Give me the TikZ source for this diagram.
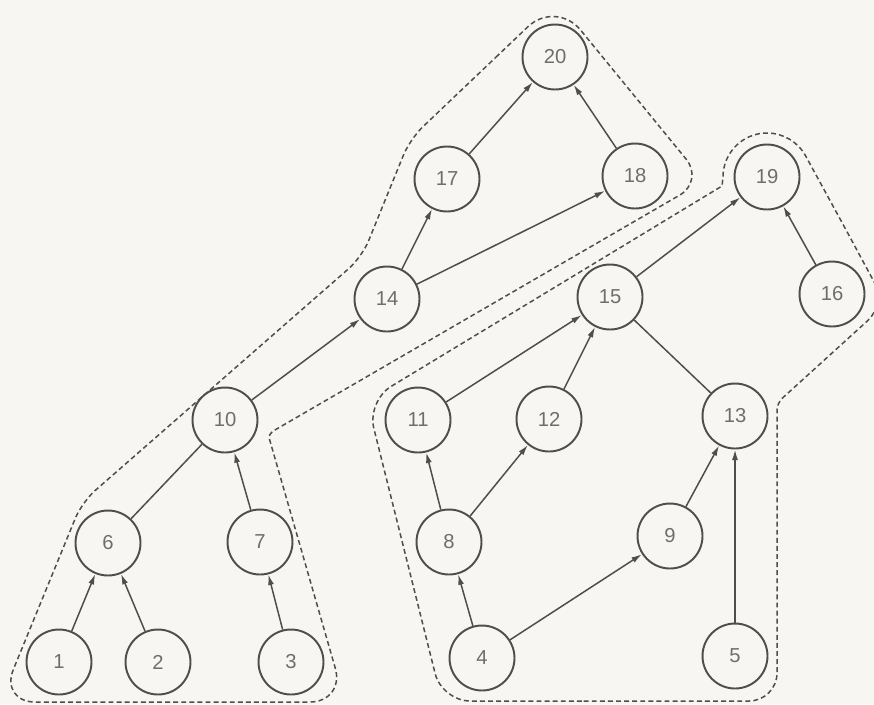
\documentclass[tikz,border=0pt]{standalone}
\usepackage{fontspec}
\setmainfont{Liberation Sans}
\usetikzlibrary{arrows.meta}
\definecolor{bg}{HTML}{F7F6F2}
\definecolor{ink}{HTML}{4E4E4E}
\definecolor{txt}{HTML}{6E6E6E}
\begin{document}
\begin{tikzpicture}[x=0.02cm,y=-0.02cm,
  vert/.style={circle,draw=ink,line width=1.1pt,minimum size=1.3cm,inner sep=0pt,
    font=\fontsize{11.5}{13}\selectfont,text=txt,fill=bg},
  arr/.style={draw=ink,line width=0.85pt,-{Latex[length=6pt,width=3.4pt]}},
  plainedge/.style={draw=ink,line width=0.85pt},
  group/.style={draw=ink,line width=0.85pt,dash pattern=on 2.8pt off 1.8pt}]
\fill[bg] (0,0) rectangle (874,704);
\useasboundingbox (0,0) rectangle (874,704);

% groups
\draw[group] (483,69.5) [rounded corners=22pt] -- (556,0) -- (630,90.5)
  [rounded corners=16pt] -- (704,181) -- (486,307.5)
  [rounded corners=3pt] -- (268,434) -- (306.5,568)
  [rounded corners=20pt] -- (345,702) -- (0,702) -- (41,602)
  [rounded corners=10pt] -- (82,502) -- (362,257) -- (410,139) -- cycle;

\draw[group] (610,701) [rounded corners=16pt] -- (442,701) -- (367,401) -- (544.5,293.5)
  [sharp corners] -- (722,186) -- (723,177) arc[start angle=-180,end angle=-28.5,radius=44]
  -- (845,228) [rounded corners=14pt] -- (886,304) -- (831.5,353.5)
  [rounded corners=4pt] -- (777,403) -- (777,552)
  [rounded corners=16pt] -- (777,701) -- cycle;

% nodes
\node[vert] (n20) at (555,57) {20};
\node[vert] (n17) at (447,179) {17};
\node[vert] (n18) at (635,176) {18};
\node[vert] (n19) at (767,177) {19};
\node[vert] (n14) at (387,299) {14};
\node[vert] (n15) at (610,297) {15};
\node[vert] (n16) at (832,294) {16};
\node[vert] (n10) at (225,420) {10};
\node[vert] (n11) at (418,420) {11};
\node[vert] (n12) at (549,419) {12};
\node[vert] (n13) at (735,416) {13};
\node[vert] (n6) at (108,543) {6};
\node[vert] (n7) at (260,542) {7};
\node[vert] (n8) at (449,542) {8};
\node[vert] (n9) at (670,536) {9};
\node[vert] (n1) at (59,662) {1};
\node[vert] (n2) at (158,662) {2};
\node[vert] (n3) at (291,662) {3};
\node[vert] (n4) at (482,658) {4};
\node[vert] (n5) at (735,656) {5};

% edges
\draw[arr] (n17) -- (n20);
\draw[arr] (n18) -- (n20);
\draw[arr] (n14) -- (n17);
\draw[arr] (n14) -- (n18);
\draw[arr] (n10) -- (n14);
\draw[plainedge] (n6) -- (n10);
\draw[arr] (n7) -- (n10);
\draw[arr] (n1) -- (n6);
\draw[arr] (n2) -- (n6);
\draw[arr] (n3) -- (n7);
\draw[arr] (n15) -- (n19);
\draw[arr] (n16) -- (n19);
\draw[arr] (n11) -- (n15);
\draw[arr] (n12) -- (n15);
\draw[plainedge] (n13) -- (n15);
\draw[arr] (n8) -- (n11);
\draw[arr] (n8) -- (n12);
\draw[arr] (n4) -- (n8);
\draw[arr] (n4) -- (n9);
\draw[arr] (n9) -- (n13);
\draw[arr] (n5) -- (n13);
\end{tikzpicture}
\end{document}
